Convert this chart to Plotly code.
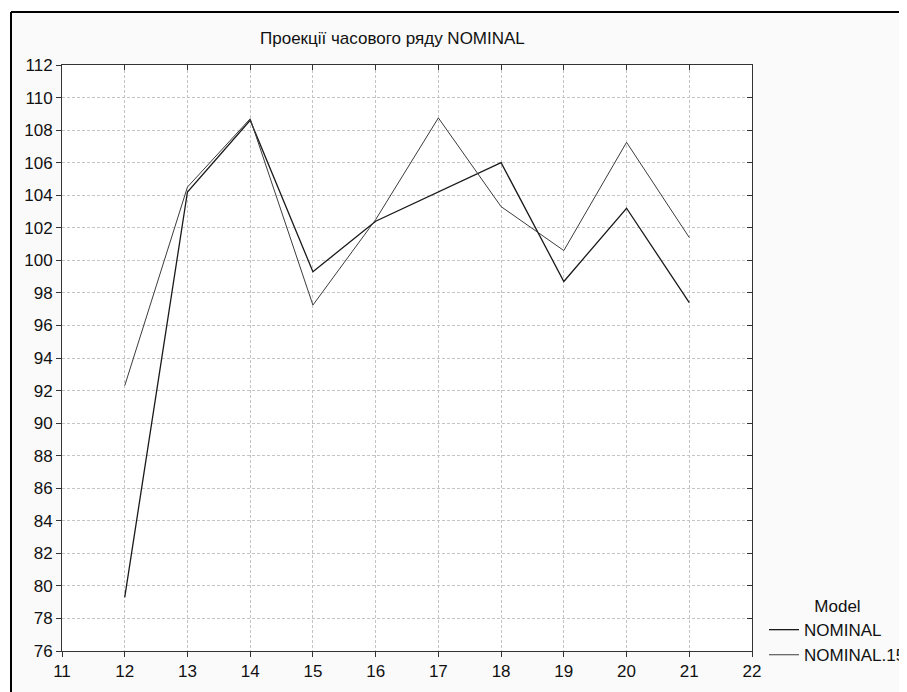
import plotly.graph_objects as go

x_vals = [12, 13, 14, 15, 16, 17, 18, 19, 20, 21]
nominal = [79.3, 104.2, 108.6, 99.3, 102.4, 104.2, 106.0, 98.7, 103.2, 97.4]
nominal_15 = [92.3, 104.5, 108.7, 97.25, 102.5, 108.75, 103.3, 100.6, 107.25, 101.4]
x_ticks = list(range(11, 23))
y_ticks = list(range(76, 113, 2))
title_text = "Проекції часового ряду NOMINAL"

# page has an 8px body margin; work in page coordinates and shift
OFF = 8
W, H = 907 - OFF, 692 - OFF
L, R, T, B = 62 - OFF, 752 - OFF, 65 - OFF, 651 - OFF
pw, ph = R - L, B - T

def px(x):
    return (x - OFF - L) / pw

def py(y):
    return (B - (y - OFF)) / ph

FONT = "Liberation Sans, Arial, sans-serif"
FS = 17

fig = go.Figure()
fig.add_trace(go.Scatter(x=x_vals, y=nominal, mode="lines", name="NOMINAL",
                         line=dict(color="#1a1a1a", width=1.3)))
fig.add_trace(go.Scatter(x=x_vals, y=nominal_15, mode="lines", name="NOMINAL.15",
                         line=dict(color="#3c3c3c", width=1)))
# empty trace so the mirrored top/right axes are drawn
fig.add_trace(go.Scatter(x=[], y=[], xaxis="x2", yaxis="y2", showlegend=False,
                         hoverinfo="skip", mode="lines"))

axis_common = dict(showline=True, linecolor="#333333", linewidth=1,
                   showgrid=True, gridcolor="#c4c4c4", griddash="3px,2px", gridwidth=1,
                   zeroline=False, ticks="outside", ticklen=5, tickcolor="#333333",
                   tickfont=dict(family=FONT, size=FS, color="#111111"))

fig.update_layout(
    width=W, height=H,
    margin=dict(l=L, r=W - R, t=T, b=H - B, autoexpand=False),
    paper_bgcolor="#fafafa", plot_bgcolor="white",
    font=dict(family=FONT, size=FS, color="#111111"),
    xaxis=dict(range=[11, 22], tickvals=x_ticks, ticktext=[str(v) for v in x_ticks], **axis_common),
    yaxis=dict(range=[76, 112], tickvals=y_ticks, ticktext=[str(v) for v in y_ticks], **axis_common),
    xaxis2=dict(overlaying="x", side="top", anchor="y", range=[11, 22],
                tickvals=x_ticks, showticklabels=False, ticks="inside", ticklen=5,
                tickcolor="#333333", showline=True, linecolor="#333333", showgrid=False, zeroline=False),
    yaxis2=dict(overlaying="y", side="right", anchor="x", range=[76, 112],
                tickvals=y_ticks, showticklabels=False, ticks="inside", ticklen=5,
                tickcolor="#333333", showline=True, linecolor="#333333", showgrid=False, zeroline=False),
    showlegend=True,
    legend=dict(x=px(764), y=py(590), xanchor="left", yanchor="top",
                bgcolor="rgba(0,0,0,0)", font=dict(family=FONT, size=FS, color="#111111"),
                title=dict(text="Model", side="top center", font=dict(family=FONT, size=FS)),
                tracegroupgap=0, itemwidth=30),
    annotations=[dict(text=title_text, x=px(392), y=py(38), xref="paper", yref="paper",
                      showarrow=False, xanchor="center", yanchor="middle",
                      font=dict(family=FONT, size=FS, color="#111111"))],
    shapes=[
        dict(type="rect", xref="paper", yref="paper", x0=px(0), x1=px(907), y0=py(12), y1=py(0),
             fillcolor="white", line=dict(width=0), layer="below"),
        dict(type="rect", xref="paper", yref="paper", x0=px(0), x1=px(11), y0=py(692), y1=py(0),
             fillcolor="white", line=dict(width=0), layer="below"),
        dict(type="line", xref="paper", yref="paper", x0=px(11), x1=px(907), y0=py(12), y1=py(12),
             line=dict(color="black", width=2)),
        dict(type="line", xref="paper", yref="paper", x0=px(11), x1=px(11), y0=py(12), y1=py(692),
             line=dict(color="black", width=2)),
    ],
)
fig.write_html("out.html")
